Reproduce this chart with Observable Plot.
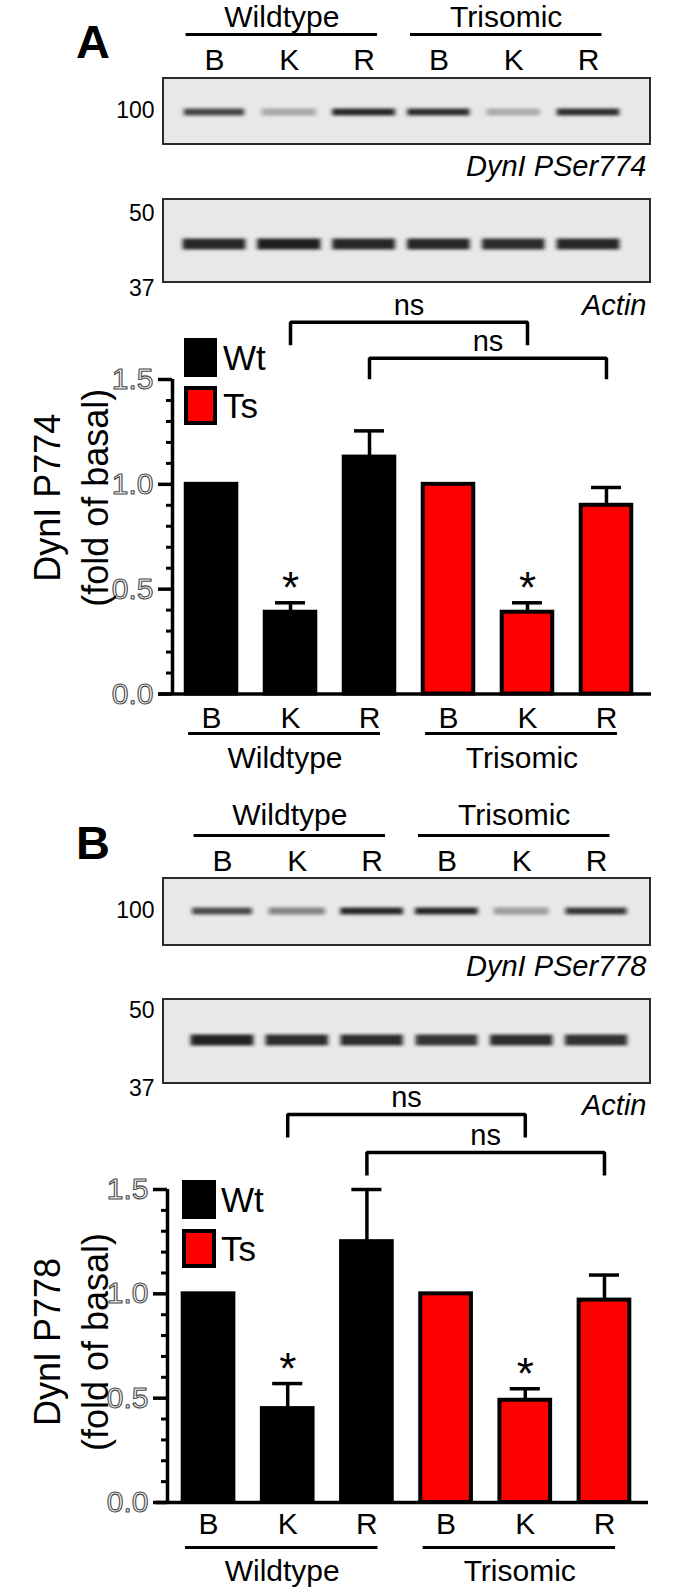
<!DOCTYPE html>
<html>
<head>
<meta charset="utf-8">
<script src="https://cdn.jsdelivr.net/npm/d3@7"></script>
<script src="https://cdn.jsdelivr.net/npm/@observablehq/plot@0.6"></script>
<style>
html,body{margin:0;padding:0;background:#fff;}
#fig{position:relative;width:680px;height:1589px;overflow:hidden;background:#fff;font-family:"Liberation Sans",Arial,Helvetica,sans-serif;}
#fig svg{position:absolute;left:0;}
.legbox{position:absolute;box-sizing:border-box;border:3.5px solid #000;}
.legtxt{position:absolute;font-size:35px;line-height:35px;color:#000;white-space:nowrap;}
</style>
</head>
<body>
<div id="fig"></div>
<script>
// ---------------- data ----------------
const laneLabels = ["B", "K", "R", "B", "K", "R"];
const laneGroup = [0, 0, 0, 1, 1, 1];
const groupNames = ["Wildtype", "Trisomic"];
const seriesNames = ["Wt", "Ts"];
const seriesColors = ["#000000", "#ff0000"];

// Panel A : DynI P774 (fold of basal)
const p774Mean = [1.00, 0.39, 1.13, 1.00, 0.39, 0.90];
const p774Sem  = [0.00, 0.045, 0.125, 0.00, 0.045, 0.085];
const p774Sig  = [false, true, false, false, true, false];

// Panel B : DynI P778 (fold of basal)
const p778Mean = [1.00, 0.45, 1.25, 1.00, 0.49, 0.97];
const p778Sem  = [0.00, 0.12, 0.25, 0.00, 0.055, 0.12];
const p778Sig  = [false, true, false, false, true, false];

// comparisons (lane index a vs lane index b)
const compA = [1, 2];
const compB = [4, 5];
const compLabels = ["ns", "ns"];

// western blot band intensities (relative darkness per lane)
const p774Bands   = [0.72, 0.30, 0.88, 0.85, 0.25, 0.85];
const actinABands = [0.88, 0.92, 0.88, 0.88, 0.86, 0.88];
const p778Bands   = [0.70, 0.45, 0.88, 0.88, 0.35, 0.78];
const actinBBands = [0.90, 0.86, 0.86, 0.82, 0.86, 0.84];
const mwTop = ["100"];
const mwActin = ["50", "37"];

// ---------------- helpers ----------------
const FONT = "'Liberation Sans', Arial, Helvetica, sans-serif";
const fig = document.getElementById("fig");
const BAND_FILL = "#141414";

function addBlur(svg, id, h) {
  const ns = "http://www.w3.org/2000/svg";
  const defs = document.createElementNS(ns, "defs");
  const f = document.createElementNS(ns, "filter");
  f.setAttribute("id", id);
  f.setAttribute("filterUnits", "userSpaceOnUse");
  f.setAttribute("x", "0"); f.setAttribute("y", "0");
  f.setAttribute("width", "680"); f.setAttribute("height", String(h));
  const b = document.createElementNS(ns, "feGaussianBlur");
  b.setAttribute("stdDeviation", "2.2 1.8");
  f.appendChild(b); defs.appendChild(f);
  svg.insertBefore(defs, svg.firstChild);
  svg.querySelectorAll(`g[fill="${BAND_FILL}"]`).forEach(g => g.setAttribute("filter", `url(#${id})`));
}

function blotPlot(cfg) {
  const s = cfg.step, c0 = cfg.c0;
  const u = px => (px - c0) / s;
  const lanes = laneLabels.map((l, i) => ({i, l}));
  const groups = groupNames.map((name, g) => ({name, start: laneGroup.indexOf(g), end: laneGroup.lastIndexOf(g)}));
  const boxes = cfg.blots;
  const bands = boxes.flatMap(b => b.intensity.map((v, i) => ({i, v, y: b.bandY, h: b.bandH})));
  const mw = boxes.flatMap(b => b.mw.map((label, k) => ({label, y: b.mwY[k]})));
  const svg = Plot.plot({
    width: 680, height: cfg.height,
    marginTop: 0, marginBottom: 0, marginLeft: 0, marginRight: 0,
    x: {domain: [-0.5, 5.5], range: [c0 - s / 2, c0 + 5.5 * s], axis: null},
    y: {type: "identity", axis: null},
    style: {background: "transparent", fontFamily: FONT, top: cfg.top + "px", overflow: "visible"},
    marks: [
      Plot.text([cfg.letter], {x: u(92.5), y: cfg.letterY, text: d => d, fontSize: 47, fontWeight: "bold"}),
      Plot.text(groups, {x: d => (d.start + d.end) / 2 + cfg.grpOffset, y: cfg.grpY, text: "name", fontSize: 30}),
      Plot.ruleY(groups, {y: cfg.lineY, x1: d => d.start - 0.38, x2: d => d.end + 0.18, strokeWidth: 2.8}),
      Plot.text(lanes, {x: "i", y: cfg.laneY, text: "l", fontSize: 30}),
      Plot.rect(boxes, {x1: u(163), x2: u(650), y1: "top", y2: "bottom", fill: "#e8e8e8", stroke: "#2b2b2b", strokeWidth: 2}),
      Plot.rect(bands, {
        x1: d => d.i - (0.33 + 0.1 * d.v), x2: d => d.i + (0.33 + 0.1 * d.v),
        y1: d => d.y - d.h / 2, y2: d => d.y + d.h / 2,
        fill: BAND_FILL, fillOpacity: d => Math.min(1, d.v * 1.05)
      }),
      Plot.text(mw, {x: u(154), y: "y", text: "label", textAnchor: "end", fontSize: 23}),
      Plot.text(boxes, {x: u(646), y: "labelY", text: "name", textAnchor: "end", fontSize: 29, fontStyle: "italic"})
    ]
  });
  addBlur(svg, "blur" + cfg.letter, cfg.height);
  fig.appendChild(svg);
}

function barPlot(cfg) {
  const rows = laneLabels.map((lane, i) => ({
    i, lane, group: laneGroup[i], mean: cfg.mean[i], sem: cfg.sem[i], sig: cfg.sig[i]
  }));
  const errRows = rows.filter(d => d.sem > 0);
  const groups = groupNames.map((name, g) => ({name, start: laneGroup.indexOf(g), end: laneGroup.lastIndexOf(g)}));
  const brackets = compA.map((a, k) => ({a, b: compB[k], label: compLabels[k], top: cfg.bracketTop[k], leg: cfg.bracketLeg[k]}));
  const bracketPts = brackets.flatMap((br, k) => [
    {k, x: br.a, y: br.leg}, {k, x: br.a, y: br.top}, {k, x: br.b, y: br.top}, {k, x: br.b, y: br.leg}
  ]);
  const x0 = cfg.xDomain[0];
  const k = (680 - cfg.marginLeft - cfg.marginRight) / (cfg.xDomain[1] - cfg.xDomain[0]);
  const yMajor = [0, 0.5, 1.0, 1.5];
  const yMinor = d3.range(0, 16).filter(t => t % 5 !== 0).map(t => t / 10);
  const hw = 0.32;
  const svg = Plot.plot({
    width: 680, height: cfg.height,
    marginTop: cfg.marginTop, marginBottom: cfg.marginBottom,
    marginLeft: cfg.marginLeft, marginRight: cfg.marginRight,
    x: {domain: cfg.xDomain, axis: null},
    y: {domain: [0, 1.5], axis: null},
    style: {background: "transparent", fontFamily: FONT, top: cfg.top + "px", overflow: "visible"},
    marks: [
      // bars
      Plot.rectY(rows, {
        x1: d => d.i - hw, x2: d => d.i + hw, y1: 0, y2: "mean",
        fill: d => seriesColors[d.group], stroke: "#000", strokeWidth: 4
      }),
      // error bars
      Plot.ruleX(errRows, {x: "i", y1: "mean", y2: d => d.mean + d.sem, strokeWidth: 3.5}),
      Plot.ruleY(errRows, {y: d => d.mean + d.sem, x1: d => d.i - 0.19, x2: d => d.i + 0.19, strokeWidth: 3.5}),
      // axes
      Plot.ruleX([x0], {y1: 0, y2: 1.5, strokeWidth: 3.5}),
      Plot.ruleY([0], {x1: cfg.baseStart, x2: cfg.xDomain[1], strokeWidth: 3.5}),
      Plot.ruleY(yMajor, {y: d => d, x1: x0 - 14 / k, x2: x0, strokeWidth: 3.5}),
      Plot.ruleY(yMinor, {y: d => d, x1: x0 - 6 / k, x2: x0, strokeWidth: 3}),
      Plot.text(yMajor, {
        x: x0, y: d => d, text: d => d.toFixed(1), textAnchor: "end", dx: -19,
        fontSize: 30, fill: "#f2f2f2", stroke: "#4a4a4a", strokeWidth: 1.1, paintOrder: "fill"
      }),
      // significance stars
      Plot.text(rows.filter(d => d.sig), {x: "i", y: d => d.mean + d.sem, text: () => "*", fontSize: 44, dy: -14}),
      // ns brackets
      Plot.line(bracketPts, {x: "x", y: "y", z: "k", strokeWidth: 3.5, strokeLinejoin: "miter", strokeLinecap: "butt"}),
      Plot.text(brackets, {x: d => (d.a + d.b) / 2, y: "top", text: "label", fontSize: 29, dy: -17}),
      // category labels
      Plot.text(rows, {x: "i", y: 0, text: "lane", fontSize: 30, dy: cfg.laneDy}),
      Plot.ruleY(groups, {y: 0, x1: d => d.start - 0.29, x2: d => d.end + 0.14, dy: cfg.ulDy, strokeWidth: 2.8}),
      Plot.text(groups, {x: d => (d.start + d.end) / 2 - 0.07, y: 0, text: "name", fontSize: 30, dy: cfg.grpDy}),
      // y title
      Plot.text([cfg.yTitle], {
        frameAnchor: "left", text: d => d, rotate: -90, fontSize: 36, lineHeight: 1.33,
        textAnchor: "middle", lineAnchor: "middle",
        dx: 68 - cfg.marginLeft, dy: cfg.titleDy
      })
    ]
  });
  fig.appendChild(svg);
}

function legend(cfg) {
  seriesNames.forEach((name, g) => {
    const box = document.createElement("div");
    box.className = "legbox";
    box.style.left = cfg.left + "px";
    box.style.top = cfg.tops[g] + "px";
    box.style.width = cfg.w + "px";
    box.style.height = cfg.h + "px";
    box.style.background = seriesColors[g];
    if (g === 1) box.style.borderWidth = "4px";
    fig.appendChild(box);
    const t = document.createElement("div");
    t.className = "legtxt";
    t.textContent = name;
    t.style.left = cfg.textLeft + "px";
    t.style.top = (cfg.tops[g] + cfg.h / 2 - 0.4885 * 35) + "px";
    fig.appendChild(t);
  });
}

// ---------------- Panel A ----------------
blotPlot({
  letter: "A", top: 0, height: 330, c0: 214, step: 74.8,
  letterY: 42.5, grpY: 17, lineY: 34, laneY: 60, grpOffset: -0.1,
  blots: [
    {name: "DynI PSer774", top: 78, bottom: 144, bandY: 112, bandH: 7, intensity: p774Bands, mw: mwTop, mwY: [110], labelY: 166},
    {name: "Actin", top: 199, bottom: 282, bandY: 244, bandH: 11, intensity: actinABands, mw: mwActin, mwY: [213, 288], labelY: 305}
  ]
});
barPlot({
  top: 285, height: 500, marginTop: 94, marginBottom: 91.5, marginLeft: 172, marginRight: 29,
  xDomain: [-0.494, 5.57], baseStart: -0.671,
  mean: p774Mean, sem: p774Sem, sig: p774Sig,
  bracketTop: [1.773, 1.601], bracketLeg: [1.663, 1.501],
  laneDy: 24.6, ulDy: 39.5, grpDy: 64.6, titleDy: -39,
  yTitle: "DynI P774\n(fold of basal)"
});
legend({left: 184, w: 33, h: 39, tops: [338, 386], textLeft: 223});

// ---------------- Panel B ----------------
blotPlot({
  letter: "B", top: 790, height: 330, c0: 222, step: 74.8,
  letterY: 53, grpY: 25, lineY: 45, laneY: 71, grpOffset: -0.1,
  blots: [
    {name: "DynI PSer778", top: 88, bottom: 155, bandY: 121, bandH: 7, intensity: p778Bands, mw: mwTop, mwY: [120], labelY: 176},
    {name: "Actin", top: 209, bottom: 293, bandY: 250, bandH: 11, intensity: actinBBands, mw: mwActin, mwY: [220, 298], labelY: 315}
  ]
});
barPlot({
  top: 1085, height: 504, marginTop: 104, marginBottom: 87, marginLeft: 167, marginRight: 32,
  xDomain: [-0.518, 5.556], baseStart: -0.657,
  mean: p778Mean, sem: p778Sem, sig: p778Sig,
  bracketTop: [1.859, 1.677], bracketLeg: [1.749, 1.567],
  laneDy: 22.1, ulDy: 45, grpDy: 69.1, titleDy: -4,
  yTitle: "DynI P778\n(fold of basal)"
});
legend({left: 182, w: 34, h: 39, tops: [1180, 1229], textLeft: 221});
</script>
</body>
</html>
